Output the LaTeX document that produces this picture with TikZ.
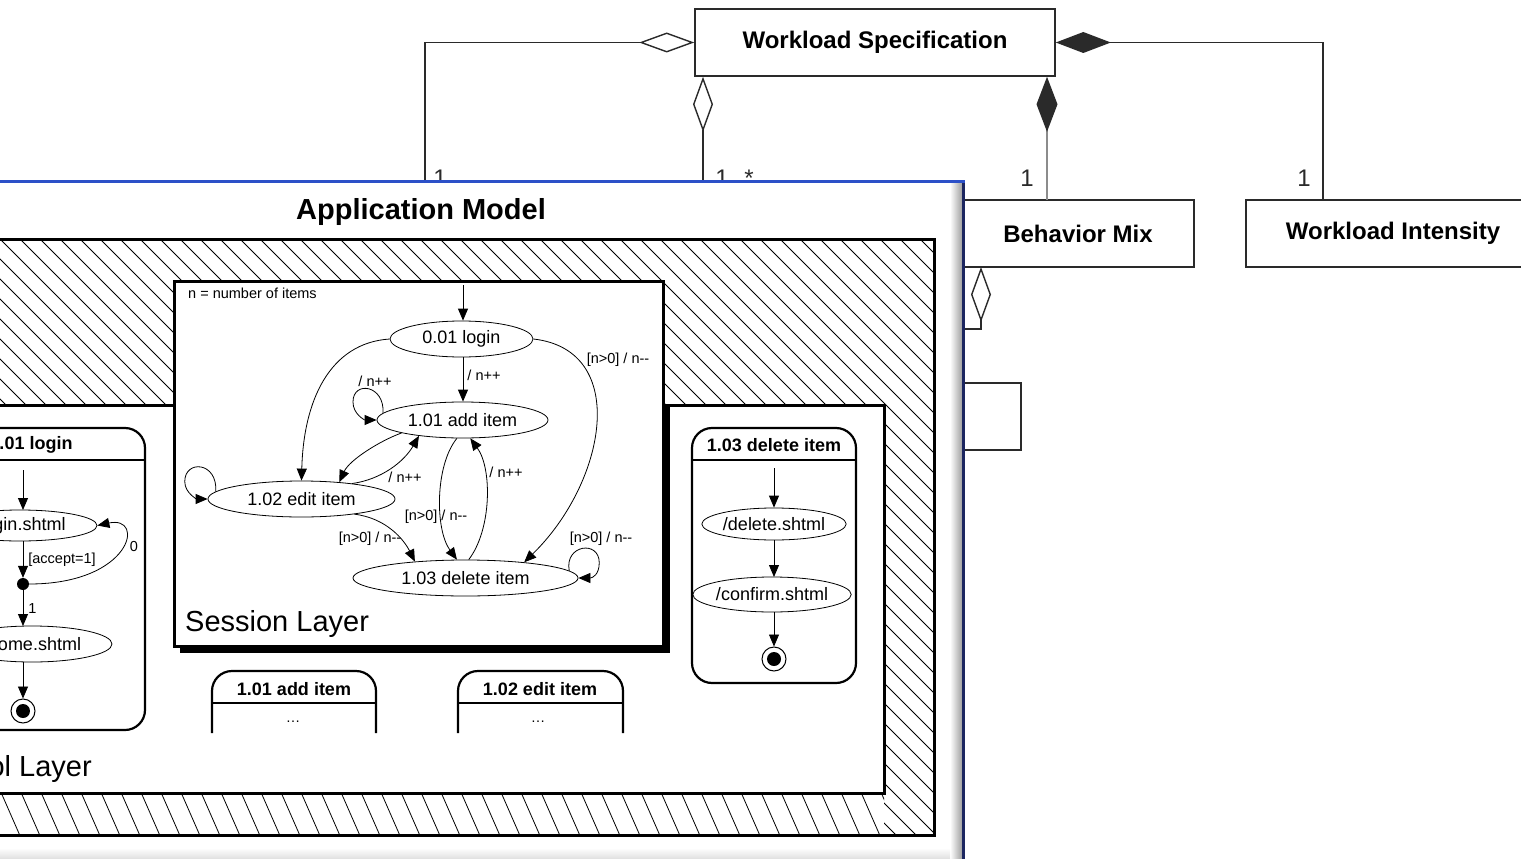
\documentclass[tikz,border=0pt]{standalone}
\usepackage{fontspec}
\setmainfont{Liberation Sans}
\usetikzlibrary{shapes.geometric,arrows.meta}
\definecolor{winblue}{HTML}{2C50C8}
\definecolor{winedge}{HTML}{1C2660}
\definecolor{umlink}{HTML}{2A2A2A}

\tikzset{
  umlbox/.style={draw=umlink, line width=1.6pt, fill=white, inner sep=0pt,
    font=\fontsize{24}{28}\selectfont\bfseries},
  umlline/.style={draw=umlink, line width=1.4pt},
  agg/.style={umlline, {Diamond[open,length=55pt,width=20pt]}-},
  comp/.style={umlline, {Diamond[length=55pt,width=21pt]}-},
  mult/.style={font=\fontsize{24}{28}\selectfont, text=umlink, anchor=base, inner sep=0pt},
  st/.style={ellipse, draw, line width=0.8pt, inner sep=0pt, font=\fontsize{18}{22}\selectfont},
  arr/.style={line width=0.8pt, -{Triangle[length=12pt,width=10pt]}},
  lbl/.style={font=\fontsize{14.5}{17}\selectfont, inner sep=0pt},
  layer/.style={draw, line width=3pt, fill=white},
  sstate/.style={draw, line width=2.2pt, rounded corners=20pt},
  stitle/.style={font=\fontsize{18}{22}\selectfont\bfseries, inner sep=0pt},
  ltitle/.style={font=\fontsize{29}{34}\selectfont, inner sep=0pt},
  finalring/.style={circle, draw, line width=1pt, minimum size=24pt, inner sep=0pt},
  junction/.style={circle, fill, minimum size=12pt, inner sep=0pt},
}
\newcommand{\dec}{n-{}-}

\begin{document}
\begin{tikzpicture}[x=1pt,y=-1pt]
\useasboundingbox (0,0) rectangle (1521,859);
\clip (0,0) rectangle (1521,859);
\fill[white] (0,0) rectangle (1521,859);

% ---------------- workload model (class diagram) ----------------
\node[umlbox, minimum width=360pt, minimum height=67pt] (ws) at (875,42.5) {Workload Specification};
\node[umlbox, minimum width=232pt, minimum height=67pt] (bm) at (1078,233.5) {Behavior Mix};
\node[umlbox, minimum width=294pt, minimum height=67pt] (wi) at (1393,233.5) {Workload Intensity};
\node[draw=umlink, line width=1.6pt, minimum width=66pt, minimum height=67pt, inner sep=0pt] (aux) at (988,416.5) {};

\coordinate (amL) at (425,200);
\coordinate (amR) at (703,200);
\coordinate (bmT) at (1047,200);
\coordinate (wiT) at (1323,200);
\coordinate (bmB) at (981,267);
\coordinate (amM) at (950,329);

\draw[agg] (ws.west) -| (amL);
\draw[agg] (ws.south -| amR) -- (amR);
\draw[comp] (ws.east) -| (wiT);
\draw[draw=black!45, line width=1.4pt, {Diamond[length=55pt,width=21pt,color=umlink]}-] (ws.south -| bmT) -- (bmT);
\draw[agg] (bmB) -- ++(0,62) -| (amM);

\node[mult] (m1) at (440,186) {1};
\node[mult] (m2) at (722,186) {1};
\node[mult] (m3) at (749,186) {*};
\node[mult] (m4) at (1027,186) {1};
\node[mult] (m5) at (1304,186) {1};

% ---------------- application model window ----------------
\fill[white] (-10,181) rectangle (963,870);
\node[font=\fontsize{29}{34}\selectfont\bfseries, inner sep=0pt] (amtitle) at (421,212) {Application Model};

% hatched frame
\begin{scope}
  \clip (-10,239) rectangle (934,793) (884,793) rectangle (934,835);
  \foreach \i in {-33,...,48} \draw[line width=0.8pt] (\i*20,239) -- ++(620,620);
\end{scope}
\begin{scope}
  \clip (-10,793) rectangle (884,835);
  \foreach \i in {-2,...,46} \draw[line width=0.8pt] (\i*20,790) -- ++(21,48);
\end{scope}
\draw[line width=3pt] (-10,239) rectangle (934,835);

% protocol layer
\draw[layer] (-10,405) rectangle (884,793);
\node[ltitle, anchor=base east] (pltitle) at (92,776) {Protocol Layer};

% state 1.01 login (protocol level)
\draw[sstate] (-83,428) rectangle (145,730);
\draw[line width=2pt] (-83,460) -- (145,460);
\node[stitle] (t1) at (31,445) {1.01 login};
\coordinate (li0) at (23,470);
\node[st, minimum width=154pt, minimum height=31pt] (lg) at (20,525.5) {/login.shtml};
\node[junction] (jn) at (23,584) {};
\node[st, minimum width=160pt, minimum height=36pt] (hm) at (32,644) {/home.shtml};
\node[finalring] (lf) at (23,711) {};
\fill (lf.center) circle (7pt);
\draw[arr] (li0) -- (23,510);
\draw[arr] (23,541) -- (jn.north) node[lbl, midway, anchor=west, xshift=5pt] {[accept=1]};
\draw[arr] (jn.south) -- (23,626) node[lbl, midway, anchor=west, xshift=5pt] {1};
\draw[arr] (23,662) -- (lf.north);
\draw[arr] (jn.east) .. controls (132,584) and (146,515) .. (lg.east);
\node[lbl] (l0) at (134,547) {0};

% state 1.03 delete item (protocol level)
\draw[sstate] (692,428) rectangle (856,683);
\draw[line width=2pt] (692,460) -- (856,460);
\node[stitle] (t3) at (774,445) {1.03 delete item};
\coordinate (di0) at (774,468);
\node[st, minimum width=144pt, minimum height=32pt] (dl) at (774,524) {/delete.shtml};
\node[st, minimum width=153pt, minimum height=35pt] (cf) at (772,594.5) {/confirm.shtml};
\node[finalring] (df) at (774,659) {};
\fill (df.center) circle (7pt);
\draw[arr] (di0) -- (dl.north);
\draw[arr] (dl.south) -- (774,577);
\draw[arr] (774,612) -- (df.north);

% states 1.01 add item / 1.02 edit item (collapsed)
\draw[sstate] (212,733) -- (212,671) -- (376,671) -- (376,733);
\draw[line width=2pt] (212,703) -- (376,703);
\node[stitle] (t4) at (294,689) {1.01 add item};
\node[lbl] (d4) at (293,722) {\dots};
\draw[sstate] (458,733) -- (458,671) -- (623,671) -- (623,733);
\draw[line width=2pt] (458,703) -- (623,703);
\node[stitle] (t5) at (540,689) {1.02 edit item};
\node[lbl] (d5) at (538,722) {\dots};

% ---------------- session layer ----------------
\fill (180,405) rectangle (670,653);
\draw[layer] (174,281) rectangle (663,646);
\node[ltitle, anchor=base west] (sltitle) at (185,631) {Session Layer};
\node[lbl, anchor=west] (note) at (188,293) {n = number of items};

\node[st, minimum width=143pt, minimum height=36pt] (login) at (461.5,339) {0.01 login};
\node[st, minimum width=171pt, minimum height=36pt] (add) at (462.5,420) {1.01 add item};
\node[st, minimum width=187pt, minimum height=36pt] (edit) at (301.5,499) {1.02 edit item};
\node[st, minimum width=225pt, minimum height=36pt] (del) at (465.5,578) {1.03 delete item};
\coordinate (s0) at (463,285);

\draw[arr] (s0) -- (login.north -| s0);
\draw[arr] (login.south -| s0) -- (add.north -| s0);
\node[lbl] at (484,375) {/ n++};

% login -> edit, login -> delete
\draw[arr] (login.west) .. controls +(-60,4) and +(2,-80) .. (edit.north);
\draw[arr] (login.east) .. controls +(97,11) and +(82,-80) .. (del.15);
\node[lbl] at (618,360) {[n>0] / \dec};

% add self loop
\draw[arr] (add.175) .. controls +(2,-28) and +(0,-22) .. ++(-30,-11)
  .. controls +(0,12) and +(-12,0) .. (add.west);
\node[lbl] at (375,381) {/ n++};

% add <-> edit
\draw[arr] (add.192) .. controls +(-22,8) and +(10,-22) .. (edit.24);
\draw[arr] (edit.17) .. controls +(29,-4) and +(-15,26) .. (add.200);
\node[lbl] at (405,477) {/ n++};

% edit self loop
\draw[arr] (edit.175) .. controls +(2,-30) and +(0,-22) .. ++(-31,-10)
  .. controls +(0,12) and +(-10,0) .. (edit.west);

% add <-> delete
\draw[arr] (add.253) .. controls +(-22,27) and +(-22,-30) .. (del.115);
\draw[arr] (del.80) .. controls +(23,-30) and +(22,30) .. (add.293);
\node[lbl] at (436,517) {[n>0] / \dec};
\node[lbl] at (506,472) {/ n++};

% edit -> delete
\draw[arr] (edit.344) .. controls +(32,4) and +(-11,-22) .. (del.162);
\node[lbl] at (370,539) {[n>0] / \dec};

% delete self loop
\draw[arr] (del.4) .. controls +(-5,-26) and +(0,-23) .. ++(30,-8)
  .. controls +(0,12) and +(14,0) .. (del.east);
\node[lbl] at (601,539) {[n>0] / \dec};

% ---------------- window frame ----------------
\shade[left color=white, right color=black!40] (950,183) rectangle (963,870);
\shade[top color=white, bottom color=black!25] (-10,848) rectangle (950,870);
\fill[winedge] (962,181) rectangle (965,870);
\fill[winblue] (-10,180) rectangle (965,183);
\end{tikzpicture}
\end{document}
